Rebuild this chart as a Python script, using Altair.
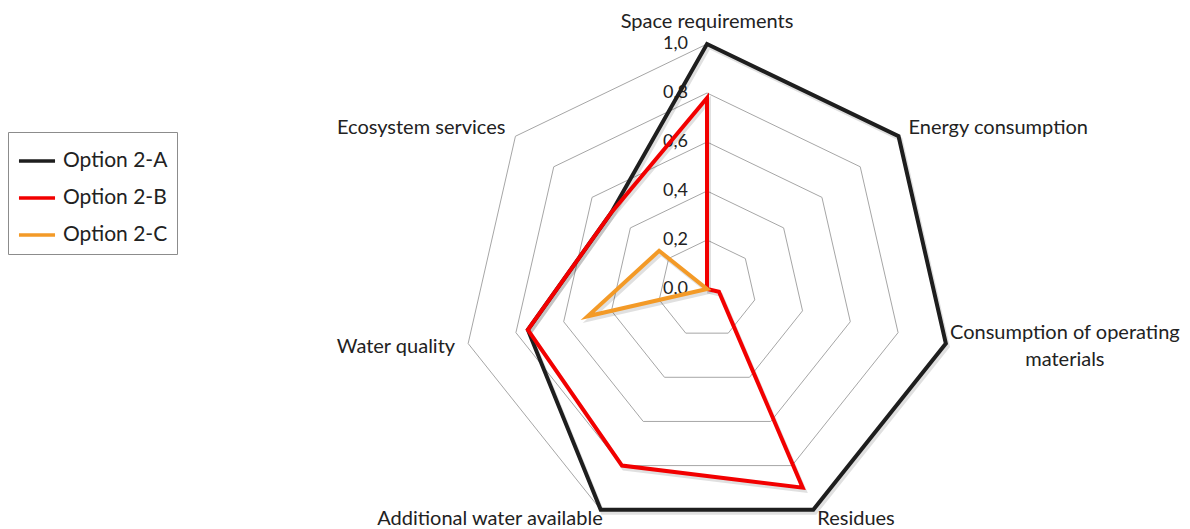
import altair as alt
import pandas as pd

# ---------------- data ----------------
categories = [
    "Space requirements",
    "Energy consumption",
    "Consumption of operating materials",
    "Residues",
    "Additional water available",
    "Water quality",
    "Ecosystem services",
]
category_display = [
    "Space requirements",
    "Energy consumption",
    "Consumption of operating\nmaterials",
    "Residues",
    "Additional water available",
    "Water quality",
    "Ecosystem services",
]
series_names = ["Option 2-A", "Option 2-B", "Option 2-C"]
option_2a = [1.0, 1.0, 1.0, 1.0, 1.0, 0.75, 0.5]
option_2b = [0.78, 0.0, 0.05, 0.9, 0.8, 0.75, 0.5]
option_2c = [0.0, 0.0, 0.0, 0.0, 0.0, 0.5, 0.25]
ring_levels = [0.2, 0.4, 0.6, 0.8, 1.0]
tick_levels = [0.0, 0.2, 0.4, 0.6, 0.8, 1.0]
tick_labels = ["0,0", "0,2", "0,4", "0,6", "0,8", "1,0"]

# ---------------- styles ----------------
series_colors = ["#1e1e1e", "#f20000", "#f39a27"]
FONT = "Lato"
TEXT_COLOR = "#222222"
label_style = {
    "Space requirements": dict(align="center", dx=0, dy=-22),
    "Energy consumption": dict(align="left", dx=10, dy=-8),
    "Consumption of operating materials": dict(align="center", dx=119, dy=-11, lineHeight=27),
    "Residues": dict(align="left", dx=4, dy=9),
    "Additional water available": dict(align="right", dx=2, dy=9),
    "Water quality": dict(align="right", dx=-13, dy=3),
    "Ecosystem services": dict(align="right", dx=-10, dy=-8),
}

N = len(categories)
rows = []
for name, vals in zip(series_names, [option_2a, option_2b, option_2c]):
    for i, (c, v) in enumerate(zip(categories, vals)):
        rows.append({"series": name, "idx": i, "category": c, "value": v})
series_df = pd.DataFrame(rows)
ring_df = pd.DataFrame(
    [{"level": lv, "idx": i, "value": lv} for lv in ring_levels for i in range(N)]
)
tick_df = pd.DataFrame({"value": tick_levels, "label": tick_labels, "idx": 0})
label_df = pd.DataFrame(
    {"category": categories, "display": category_display, "idx": list(range(N)), "value": 1.0}
)

# plot geometry (pixels)
CX, CY, R, W, H = 699, 281, 245, 1174, 521
x_scale = alt.Scale(domain=[-CX / R, (W - CX) / R], nice=False, zero=False)
y_scale = alt.Scale(domain=[-(H - CY) / R, CY / R], nice=False, zero=False)
X = alt.X("px:Q", scale=x_scale, axis=None)
Y = alt.Y("py:Q", scale=y_scale, axis=None)


def polar(ch):
    return ch.transform_calculate(
        px=f"datum.value * sin(datum.idx * 2 * PI / {N})",
        py=f"datum.value * cos(datum.idx * 2 * PI / {N})",
    )


rings = polar(alt.Chart(ring_df)).mark_line(
    interpolate="linear-closed", color="#a6a6a6", strokeWidth=1
).encode(x=X, y=Y, detail="level:N", order="idx:Q")

ticks = polar(alt.Chart(tick_df)).mark_text(
    align="right", baseline="middle", dx=-19, font=FONT, fontSize=18, color=TEXT_COLOR
).encode(x=X, y=Y, text="label:N")

shadow = polar(alt.Chart(series_df)).mark_line(
    interpolate="linear-closed", strokeWidth=4, color="#000000", opacity=0.12,
    xOffset=2, yOffset=3,
).encode(x=X, y=Y, detail="series:N", order="idx:Q")

lines = polar(alt.Chart(series_df)).mark_line(
    interpolate="linear-closed", strokeWidth=4, strokeJoin="miter"
).encode(
    x=X,
    y=Y,
    order="idx:Q",
    color=alt.Color(
        "series:N",
        scale=alt.Scale(domain=series_names, range=series_colors),
        legend=alt.Legend(
            orient="none",
            legendX=0,
            legendY=124,
            title=None,
            symbolType="stroke",
            symbolStrokeWidth=3.5,
            symbolSize=1300,
            labelFont=FONT,
            labelFontSize=21,
            labelColor=TEXT_COLOR,
            labelOffset=6,
            strokeColor="#8c8c8c",
            fillColor="white",
            padding=9,
            rowPadding=7,
        ),
    ),
)

label_layers = []
for c in categories:
    st = label_style[c]
    label_layers.append(
        polar(alt.Chart(label_df))
        .transform_filter(alt.datum.category == c)
        .mark_text(
            baseline="middle", font=FONT, fontSize=20, color=TEXT_COLOR,
            lineBreak="\n", **st
        )
        .encode(x=X, y=Y, text="display:N")
    )

chart = (
    alt.layer(rings, ticks, shadow, lines, *label_layers)
    .properties(width=W, height=H, padding=0, autosize=alt.AutoSizeParams(type="none"))
    .configure_view(stroke=None)
)

chart.save("out.html", embed_options={"renderer": "svg", "actions": False})
